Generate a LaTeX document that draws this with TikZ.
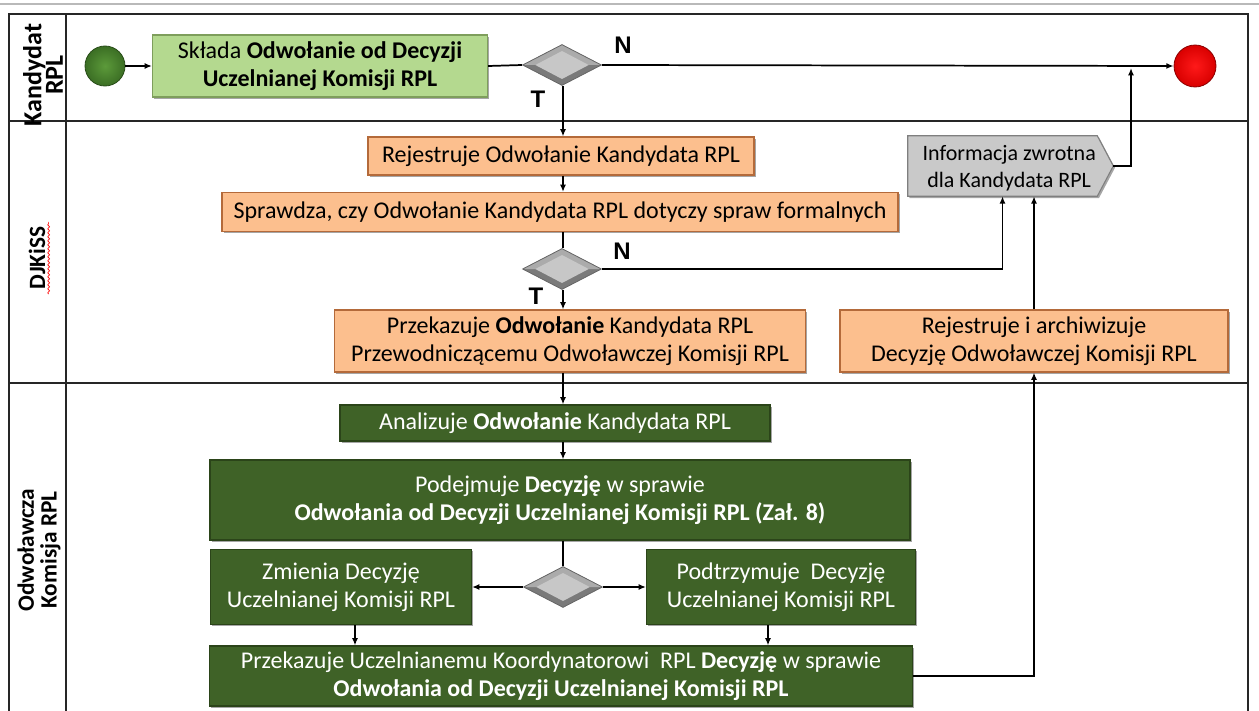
\documentclass[tikz,border=0pt]{standalone}
\usepackage{fontspec}
\setmainfont{Carlito}
\newfontfamily\arialfont{Liberation Sans}
\usetikzlibrary{shapes.geometric,shadows,calc,decorations.pathmorphing,arrows.meta}
\definecolor{lgreen}{HTML}{B4D98F}
\definecolor{lgreenb}{HTML}{7E9E5C}
\definecolor{orangef}{HTML}{FCBF8E}
\definecolor{orangeb}{HTML}{B46A3A}
\definecolor{dgreen}{HTML}{3F6227}
\definecolor{dgreenb}{HTML}{2B4419}
\definecolor{infof}{HTML}{C9C9C9}
\definecolor{infob}{HTML}{7F7F7F}
\definecolor{startin}{HTML}{5C9A3A}
\definecolor{startout}{HTML}{3B6E24}
\begin{document}
\begin{tikzpicture}[x=0.75pt,y=-0.75pt,
  every node/.style={font=\fontsize{18}{21}\selectfont},
  box/.style={rectangle, align=center, inner sep=1pt, line width=0.8pt,
    drop shadow={shadow xshift=1.3pt,shadow yshift=-1.3pt,opacity=0.35,fill=black}},
  lgbox/.style={box, fill=lgreen, draw=lgreenb},
  obox/.style={box, fill=orangef, draw=orangeb},
  gbox/.style={box, fill=dgreen, draw=dgreenb, text=white},
  decision/.style={diamond, minimum width=59.25pt, minimum height=30.75pt, inner sep=0pt,
    draw=black!60, line width=0.6pt, fill=black!52,
    path picture={
      \fill[black!33] (path picture bounding box.center) ++(-30pt,0)
        -- ++(30pt,16pt) -- ++(30pt,-16pt) -- cycle;
      \fill[black!22] (path picture bounding box.center) ++(-20pt,0)
        -- ++(20pt,10.5pt) -- ++(20pt,-10.5pt) -- ++(-20pt,-10.5pt) -- cycle;}},
  lanelabel/.style={rotate=90, align=center, font=\fontsize{17.5}{17}\selectfont\bfseries},
  yn/.style={font=\fontsize{18}{20}\selectfont\arialfont\bfseries, inner sep=0pt},
  conn/.style={line width=1.3pt, draw=black},
  arr/.style={conn, -{Latex[length=5.5pt,width=4.5pt]}},
  frame/.style={line width=1.1pt, draw=black!85}
]
\useasboundingbox (0,0) rectangle (1259,710);
% top gray rule
\draw[gray!55, line width=1.2pt] (0,4) -- (1259,4);
% pool frame
\draw[frame] (9,712) -- (9,14) -- (1248,14) -- (1248,712);
\draw[frame] (66,14) -- (66,712);
\draw[frame] (9,121) -- (1248,121);
\draw[frame] (9,383) -- (1248,383);
% lane labels
\node[lanelabel, font=\fontsize{19.5}{16}\selectfont\bfseries] (lk) at (43,75) {Kandydat\\RPL};
\node[lanelabel] (ldj) at (37,258) {DJKiSS};
\draw[red, line width=0.5pt, decorate, decoration={snake, amplitude=0.7pt, segment length=3pt}]
  ([xshift=-1pt]ldj.south west) -- ([xshift=-1pt]ldj.south east);
\node[lanelabel] (lo) at (39,550) {Odwoławcza\\Komisja RPL};
% lane 1
\node[circle, minimum size=30pt, inner sep=0pt, inner color=startin, outer color=startout, draw=startout!70!black, line width=0.6pt] (start) at (105,66) {};
\node[lgbox, minimum width=251.25pt, minimum height=46.5pt] (skl) at (320,66)
  {Składa \textbf{Odwołanie od Decyzji}\\\textbf{Uczelnianej Komisji RPL}};
\node[decision] (d1) at (562,65) {};
\node[circle, minimum size=31.5pt, inner sep=0pt, inner color=red!90, outer color=red!85!black, draw=red!55!black, line width=0.6pt] (stop) at (1195,66) {};
\node[yn] (n1) at (623,45) {N};
\node[yn] (t1) at (538,99) {T};
% lane 2
\node[obox, minimum width=289.5pt, minimum height=28.5pt] (rej1) at (561,156)
  {Rejestruje Odwołanie Kandydata RPL};
\node[obox, minimum width=507pt, minimum height=29.25pt] (spr) at (560,212)
  {Sprawdza, czy Odwołanie Kandydata RPL dotyczy spraw formalnych};
\node[decision] (d2) at (562,269) {};
\node[yn] (n2) at (622,251) {N};
\node[yn] (t2) at (536,296) {T};
\node[obox, minimum width=353.25pt, minimum height=46.5pt] (prz) at (570,341)
  {Przekazuje \textbf{Odwołanie} Kandydata RPL\\Przewodniczącemu Odwoławczej Komisji RPL};
% information (pentagon arrow) box
\node[rectangle, minimum width=141.75pt, minimum height=45pt, inner sep=0pt] (info) at (1002.5,166) {};
\coordinate (infotip) at ([xshift=12pt]info.east);
\path[fill=infof, draw=infob, line width=0.8pt,
  drop shadow={shadow xshift=1.3pt,shadow yshift=-1.3pt,opacity=0.35,fill=black}]
  (info.north west) -- (info.north east) -- (infotip) -- (info.south east)
  -- (info.south west) -- cycle;
\node[font=\fontsize{16.5}{20.5}\selectfont, align=center] (infotext) at ([xshift=5pt,yshift=-1.5pt]info.center)
  {Informacja zwrotna\\dla Kandydata RPL};
\node[obox, minimum width=291pt, minimum height=46.5pt] (rej2) at (1034,341)
  {Rejestruje i archiwizuje\\Decyzję Odwoławczej Komisji RPL};
% lane 3
\node[gbox, minimum width=322.5pt, minimum height=27pt] (ana) at (555,423)
  {Analizuje \textbf{Odwołanie} Kandydata RPL};
\node[gbox, minimum width=525pt, minimum height=60pt] (pod) at (560,500)
  {Podejmuje \textbf{Decyzję} w sprawie\\\textbf{Odwołania od Decyzji Uczelnianej Komisji RPL (Zał. 8)}};
\node[decision] (d3) at (563,587) {};
\node[gbox, minimum width=195.75pt, minimum height=56.25pt] (zm) at (341,587)
  {Zmienia Decyzję\\Uczelnianej Komisji RPL};
\node[gbox, minimum width=201.75pt, minimum height=56.25pt] (pt) at (781,587)
  {Podtrzymuje\ \ Decyzję\\Uczelnianej Komisji RPL};
\node[gbox, minimum width=527.25pt, minimum height=45pt] (prk) at (561,676)
  {Przekazuje Uczelnianemu Koordynatorowi\ \ RPL \textbf{Decyzję} w sprawie\\\textbf{Odwołania od Decyzji Uczelnianej Komisji RPL}};
% helper coordinates
\coordinate (upA) at (1131,68);
\coordinate (zmo) at ([xshift=10.5pt]zm.south);
\coordinate (pto) at ([xshift=-9.75pt]pt.south);
\coordinate (col) at (563,0);
% connectors
\draw[arr] (start) -- (skl);
\draw[conn] (skl.east) -- (d1.west);
\draw[arr] (d1.east) -- (stop.west);
\draw[arr] (col |- d1.south) -- (col |- rej1.north);
\draw[arr] (col |- rej1.south) -- (col |- spr.north);
\draw[conn] (col |- spr.south) -- (col |- d2.north);
\draw[arr] (d2.east) -| (info.south);
\draw[arr] (col |- d2.south) -- (col |- prz.north);
\draw[arr] (infotip) -| (upA);
\draw[arr] (rej2.north) -- (rej2.north |- info.south);
\draw[arr] (col |- prz.south) -- (col |- ana.north);
\draw[arr] (col |- ana.south) -- (col |- pod.north);
\draw[conn] (col |- pod.south) -- (col |- d3.north);
\draw[arr] (d3.west) -- (zm.east);
\draw[arr] (d3.east) -- (pt.west);
\draw[arr] (zmo) -- (zmo |- prk.north);
\draw[arr] (pto) -- (pto |- prk.north);
\draw[arr] (prk.east) -| (rej2.south);
\end{tikzpicture}
\end{document}
